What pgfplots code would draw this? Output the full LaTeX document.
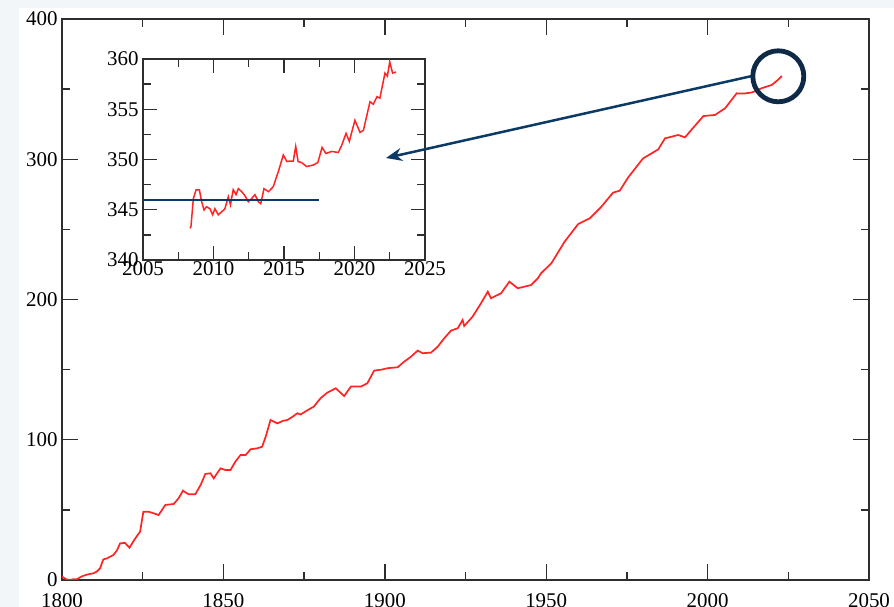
\documentclass[border=0pt]{standalone}
\usepackage{fontspec}
\setmainfont{Liberation Serif}
\usepackage{pgfplots}
\pgfplotsset{compat=1.18}
\usetikzlibrary{arrows.meta}
\definecolor{bgc}{HTML}{F2F6F8}
\definecolor{navy}{HTML}{0B3A66}
\definecolor{navyc}{HTML}{0E2A47}
\definecolor{axc}{HTML}{2E2E2E}
\definecolor{redl}{HTML}{FF2424}
\pgfplotsset{
  myax/.style={
    scale only axis,
    axis line style={axc, line width=1.7bp},
    every tick/.style={axc, line width=1.4bp},
    tick align=inside,
    xtick pos=both, ytick pos=both,
    xticklabel pos=lower, yticklabel pos=left,
    minor x tick num=1, minor y tick num=1,
    major tick length=16bp, minor tick length=8bp,
    tick label style={font=\fontsize{21}{24}\selectfont, text=black},
    /pgf/number format/assume math mode=true,
    /pgf/number format/1000 sep={},
  }
}
\begin{document}
\begin{tikzpicture}
\useasboundingbox (0bp,0bp) rectangle (894bp,607bp);
\clip (0bp,0bp) rectangle (894bp,607bp);
\fill[bgc] (0bp,0bp) rectangle (894bp,607bp);
\fill[white] (19bp,0bp) rectangle (894bp,599bp);
\begin{axis}[myax,
  at={(62bp,27bp)}, anchor=south west,
  width=807bp, height=561bp,
  xmin=1800, xmax=2050, ymin=0, ymax=400,
  xtick={1800,1850,...,2050}, ytick={0,100,...,400},
  xticklabel shift=10bp, yticklabel shift=1bp,
]
\addplot[redl, line width=1.7bp] coordinates {
(1800.0,2.5) (1800.6,1.5) (1801.5,0.3) (1802.5,0) (1803.5,0.6) (1804.6,0.5)
(1805.5,1.8) (1806.6,3) (1808,4) (1809.7,4.8) (1810.8,6) (1811.8,8.3)
(1812.8,14.7) (1814,15.5) (1815.9,17.8) (1817,21) (1818,26.1) (1819.5,26.5)
(1820.9,23) (1822.5,29) (1824.2,34.5) (1825.2,48.7) (1826.8,48.7) (1828.5,47.5)
(1829.9,46.3) (1831,50) (1832,53.5) (1834.6,54.2) (1836.1,58.2) (1837.5,63.7)
(1839.2,61.1) (1841.3,61.1) (1843,68) (1844.4,75.6) (1846,76.1) (1847,72.5)
(1849.1,79.6) (1850.5,78.5) (1852.2,78.4) (1853.7,84.4) (1855.3,89.1) (1856.9,89.1)
(1858.4,93.2) (1860.5,93.9) (1862,95) (1863.1,102.2) (1864.6,114.1) (1866.7,111.7)
(1868.5,113.5) (1869.8,114.1) (1871.5,116.5) (1872.9,118.9) (1873.9,118) (1876,121)
(1878,123.6) (1880.1,129.6) (1882.2,133.6) (1884.8,136.7) (1887.4,131.2) (1889.5,137.9)
(1892.6,137.9) (1894.6,140.3) (1896.7,149.3) (1899,150) (1900.8,151) (1904,151.7)
(1906,155.7) (1908,159) (1910.2,163.6) (1911.7,161.7) (1914.3,162.1) (1916.4,166.4)
(1918.4,172.3) (1920.5,177.8) (1922.6,179.5) (1924.1,185.4) (1924.6,181.1) (1927.2,187.8)
(1929.8,197.3) (1931.9,205.6) (1932.9,200.9) (1936,204.4) (1938.6,212.7) (1941.2,208)
(1945.3,210.3) (1947.4,215.1) (1948.4,218.7) (1951.6,225.8) (1955.7,241.2) (1959.9,253.8)
(1963.5,257.9) (1967.1,266.2) (1970.7,276.2) (1972.8,277.6) (1975.4,287.1) (1980,300.6)
(1984.7,307) (1986.8,314.9) (1990.9,317.3) (1993,315.6) (1995.1,321.3) (1998.7,330.8)
(2002.3,331.6) (2005.4,336.3) (2009,347) (2011.1,346.8) (2013.7,347.6) (2016.8,350.7)
(2019.9,353) (2021.5,356) (2023,359.3)
};
\end{axis}
\begin{axis}[myax,
  at={(143bp,347bp)}, anchor=south west,
  width=282bp, height=201bp,
  axis background/.style={fill=white},
  xmin=2005, xmax=2025, ymin=340, ymax=360,
  xtick={2005,2010,...,2025}, ytick={340,345,...,360},
  major tick length=14bp, minor tick length=8bp,
  xticklabel shift=-2bp, yticklabel shift=1bp,
]
\addplot[redl, line width=1.5bp] coordinates {
(2008.33,343.15) (2008.4,343.3) (2008.57,346.1) (2008.76,346.97) (2009.0,346.97)
(2009.16,345.8) (2009.33,344.97) (2009.5,345.3) (2009.75,345.1) (2009.94,344.5)
(2010.1,345.1) (2010.34,344.5) (2010.58,344.8) (2010.8,345.07) (2011.05,346.3)
(2011.2,345.5) (2011.4,347) (2011.6,346.5) (2011.76,347.1) (2012.0,346.8)
(2012.23,346.4) (2012.47,345.8) (2012.7,346.1) (2012.94,346.5) (2013.18,345.8)
(2013.35,345.6) (2013.58,347.1) (2013.9,346.8) (2014.24,347.3) (2014.6,348.8)
(2014.95,350.45) (2015.2,349.8) (2015.47,349.85) (2015.66,349.85) (2015.83,351.3)
(2016.0,349.8) (2016.25,349.7) (2016.6,349.3) (2017.08,349.45) (2017.4,349.7)
(2017.7,351.2) (2017.97,350.6) (2018.38,350.8) (2018.85,350.7) (2019.09,351.4)
(2019.4,352.6) (2019.63,351.8) (2020.03,353.9) (2020.39,352.7) (2020.63,352.9)
(2021.1,355.75) (2021.33,355.5) (2021.6,356.25) (2021.8,356.1) (2022.16,358.6)
(2022.33,358.3) (2022.5,359.7) (2022.7,358.6) (2022.94,358.7)
};
\addplot[navy, line width=1.9bp] coordinates {(2005,346) (2017.45,346)};
\end{axis}
\begin{scope}[x=1bp, y=1bp]
\draw[navy, line width=2.5bp, -{Stealth[length=16bp, width=13bp]}] (752,531) -- (386,449);
\draw[navyc, line width=4.8bp] (778.3,530.7) circle (25.5);
\end{scope}
\end{tikzpicture}
\end{document}
